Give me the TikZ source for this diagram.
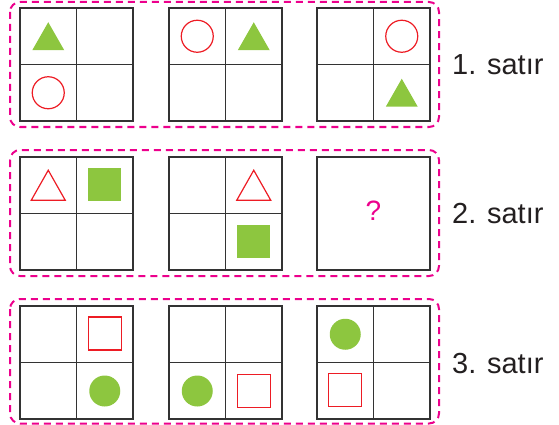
\documentclass[tikz,border=0pt]{standalone}
\usepackage{fontspec}
\setmainfont{Liberation Sans}
\definecolor{gr}{HTML}{8DC63F}
\definecolor{rd}{HTML}{ED1C24}
\definecolor{mg}{HTML}{EC008C}
\definecolor{gc}{HTML}{333333}
\definecolor{tx}{HTML}{231F20}
\tikzset{
  gridline/.style={draw=gc, line width=1.7pt},
  rowbox/.style={draw=mg, line width=2pt, dash pattern=on 7pt off 5pt, rounded corners=10pt},
  lab/.style={anchor=base west, inner sep=0pt, text=tx, font=\fontsize{29}{35}\selectfont},
  grid4/.pic={
    \draw[gridline] (0,0) rectangle (113,113);
    \draw[gridline] (56.5,0) -- (56.5,113);
    \draw[gridline] (0,56.5) -- (113,56.5);
  },
  grid1/.pic={
    \draw[gridline] (0,0) rectangle (113,113);
  },
  gtri/.pic={\fill[gr] (-16,14) -- (16,14) -- (0,-14) -- cycle;},
  rtri/.pic={\draw[rd, line width=1.2pt, line join=miter] (-17,15) -- (17,15) -- (0,-15) -- cycle;},
  rcirc/.pic={\draw[rd, line width=1.2pt] (0,0) circle (16pt);},
  gcirc/.pic={\fill[gr] (0,0) circle (15.5pt);},
  gsq/.pic={\fill[gr] (-16.5,-16.5) rectangle (16.5,16.5);},
  rsq/.pic={\draw[rd, line width=1.2pt] (-16.5,-16.5) rectangle (16.5,16.5);},
}
\begin{document}
\begin{tikzpicture}[x=1pt,y=-1pt]
\useasboundingbox (0,0) rectangle (559,425);
% dashed row boxes
\draw[rowbox] (10,2) rectangle (439,127);
\draw[rowbox] (10,150) rectangle (439,276);
\draw[rowbox] (10,299) rectangle (439,423.5);
% row 1
\pic at (20,8) {grid4};
\pic at (48.25,36.25) {gtri};
\pic at (48.25,92.75) {rcirc};
\pic at (169,8) {grid4};
\pic at (197.25,36.25) {rcirc};
\pic at (253.75,36.25) {gtri};
\pic at (317,8) {grid4};
\pic at (401.75,36.25) {rcirc};
\pic at (401.75,92.75) {gtri};
% row 2
\pic at (20,157) {grid4};
\pic at (48.25,185.25) {rtri};
\pic at (104.75,184) {gsq};
\pic at (169,157) {grid4};
\pic at (253.75,185.25) {rtri};
\pic at (253.75,241.75) {gsq};
\pic at (317,157) {grid1};
\node[text=mg, font=\fontsize{28}{32}\selectfont, inner sep=0pt] (q) at (373.5,211) {?};
% row 3
\pic at (20,306) {grid4};
\pic at (104.75,333.5) {rsq};
\pic at (104.75,391) {gcirc};
\pic at (169,306) {grid4};
\pic at (197.25,391) {gcirc};
\pic at (253.75,390.75) {rsq};
\pic at (317,306) {grid4};
\pic at (345.25,334.25) {gcirc};
\pic at (345.25,390) {rsq};
% labels
\node[lab] (l1) at (452,75) {1. satır};
\node[lab] (l2) at (452,223) {2. satır};
\node[lab] (l3) at (452,373) {3. satır};
\end{tikzpicture}
\end{document}
